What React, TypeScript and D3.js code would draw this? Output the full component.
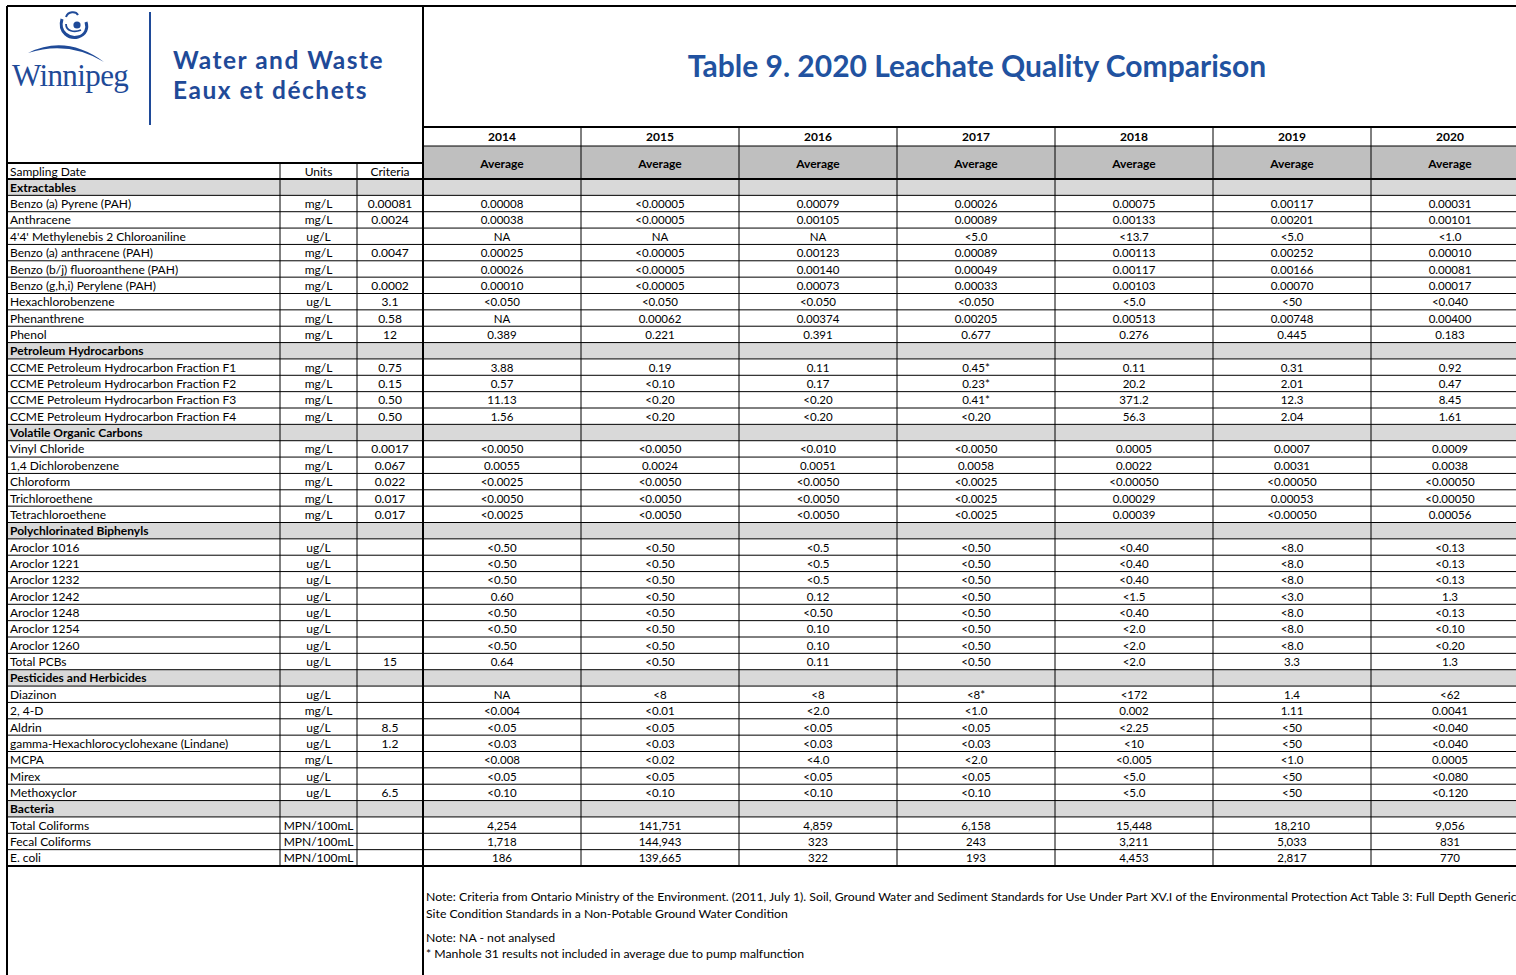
import React, { useEffect } from 'react';
import * as d3 from 'd3';

const years = ['2014', '2015', '2016', '2017', '2018', '2019', '2020'];
const sections = ['Extractables', 'Petroleum Hydrocarbons', 'Volatile Organic Carbons', 'Polychlorinated Biphenyls', 'Pesticides and Herbicides', 'Bacteria'];
const sectionSizes = [9, 4, 5, 8, 7, 3];

const params = [
  'Benzo (a) Pyrene (PAH)', 'Anthracene', "4'4' Methylenebis 2 Chloroaniline", 'Benzo (a) anthracene (PAH)',
  'Benzo (b/j) fluoroanthene (PAH)', 'Benzo (g,h,i) Perylene (PAH)', 'Hexachlorobenzene', 'Phenanthrene', 'Phenol',
  'CCME Petroleum Hydrocarbon Fraction F1', 'CCME Petroleum Hydrocarbon Fraction F2', 'CCME Petroleum Hydrocarbon Fraction F3', 'CCME Petroleum Hydrocarbon Fraction F4',
  'Vinyl Chloride', '1,4 Dichlorobenzene', 'Chloroform', 'Trichloroethene', 'Tetrachloroethene',
  'Aroclor 1016', 'Aroclor 1221', 'Aroclor 1232', 'Aroclor 1242', 'Aroclor 1248', 'Aroclor 1254', 'Aroclor 1260', 'Total PCBs',
  'Diazinon', '2, 4-D', 'Aldrin', 'gamma-Hexachlorocyclohexane (Lindane)', 'MCPA', 'Mirex', 'Methoxyclor',
  'Total Coliforms', 'Fecal Coliforms', 'E. coli',
];
const units = [
  'mg/L', 'mg/L', 'ug/L', 'mg/L', 'mg/L', 'mg/L', 'ug/L', 'mg/L', 'mg/L',
  'mg/L', 'mg/L', 'mg/L', 'mg/L',
  'mg/L', 'mg/L', 'mg/L', 'mg/L', 'mg/L',
  'ug/L', 'ug/L', 'ug/L', 'ug/L', 'ug/L', 'ug/L', 'ug/L', 'ug/L',
  'ug/L', 'mg/L', 'ug/L', 'ug/L', 'mg/L', 'ug/L', 'ug/L',
  'MPN/100mL', 'MPN/100mL', 'MPN/100mL',
];
const criteria = [
  '0.00081', '0.0024', '', '0.0047', '', '0.0002', '3.1', '0.58', '12',
  '0.75', '0.15', '0.50', '0.50',
  '0.0017', '0.067', '0.022', '0.017', '0.017',
  '', '', '', '', '', '', '', '15',
  '', '', '8.5', '1.2', '', '', '6.5',
  '', '', '',
];

const v2014 = ['0.00008', '0.00038', 'NA', '0.00025', '0.00026', '0.00010', '<0.050', 'NA', '0.389',
  '3.88', '0.57', '11.13', '1.56',
  '<0.0050', '0.0055', '<0.0025', '<0.0050', '<0.0025',
  '<0.50', '<0.50', '<0.50', '0.60', '<0.50', '<0.50', '<0.50', '0.64',
  'NA', '<0.004', '<0.05', '<0.03', '<0.008', '<0.05', '<0.10',
  '4,254', '1,718', '186'];
const v2015 = ['<0.00005', '<0.00005', 'NA', '<0.00005', '<0.00005', '<0.00005', '<0.050', '0.00062', '0.221',
  '0.19', '<0.10', '<0.20', '<0.20',
  '<0.0050', '0.0024', '<0.0050', '<0.0050', '<0.0050',
  '<0.50', '<0.50', '<0.50', '<0.50', '<0.50', '<0.50', '<0.50', '<0.50',
  '<8', '<0.01', '<0.05', '<0.03', '<0.02', '<0.05', '<0.10',
  '141,751', '144,943', '139,665'];
const v2016 = ['0.00079', '0.00105', 'NA', '0.00123', '0.00140', '0.00073', '<0.050', '0.00374', '0.391',
  '0.11', '0.17', '<0.20', '<0.20',
  '<0.010', '0.0051', '<0.0050', '<0.0050', '<0.0050',
  '<0.5', '<0.5', '<0.5', '0.12', '<0.50', '0.10', '0.10', '0.11',
  '<8', '<2.0', '<0.05', '<0.03', '<4.0', '<0.05', '<0.10',
  '4,859', '323', '322'];
const v2017 = ['0.00026', '0.00089', '<5.0', '0.00089', '0.00049', '0.00033', '<0.050', '0.00205', '0.677',
  '0.45*', '0.23*', '0.41*', '<0.20',
  '<0.0050', '0.0058', '<0.0025', '<0.0025', '<0.0025',
  '<0.50', '<0.50', '<0.50', '<0.50', '<0.50', '<0.50', '<0.50', '<0.50',
  '<8*', '<1.0', '<0.05', '<0.03', '<2.0', '<0.05', '<0.10',
  '6,158', '243', '193'];
const v2018 = ['0.00075', '0.00133', '<13.7', '0.00113', '0.00117', '0.00103', '<5.0', '0.00513', '0.276',
  '0.11', '20.2', '371.2', '56.3',
  '0.0005', '0.0022', '<0.00050', '0.00029', '0.00039',
  '<0.40', '<0.40', '<0.40', '<1.5', '<0.40', '<2.0', '<2.0', '<2.0',
  '<172', '0.002', '<2.25', '<10', '<0.005', '<5.0', '<5.0',
  '15,448', '3,211', '4,453'];
const v2019 = ['0.00117', '0.00201', '<5.0', '0.00252', '0.00166', '0.00070', '<50', '0.00748', '0.445',
  '0.31', '2.01', '12.3', '2.04',
  '0.0007', '0.0031', '<0.00050', '0.00053', '<0.00050',
  '<8.0', '<8.0', '<8.0', '<3.0', '<8.0', '<8.0', '<8.0', '3.3',
  '1.4', '1.11', '<50', '<50', '<1.0', '<50', '<50',
  '18,210', '5,033', '2,817'];
const v2020 = ['0.00031', '0.00101', '<1.0', '0.00010', '0.00081', '0.00017', '<0.040', '0.00400', '0.183',
  '0.92', '0.47', '8.45', '1.61',
  '0.0009', '0.0038', '<0.00050', '<0.00050', '0.00056',
  '<0.13', '<0.13', '<0.13', '1.3', '<0.13', '<0.10', '<0.20', '1.3',
  '<62', '0.0041', '<0.040', '<0.040', '0.0005', '<0.080', '<0.120',
  '9,056', '831', '770'];

const notes = [
  'Note: Criteria from Ontario Ministry of the Environment. (2011, July 1). Soil, Ground Water and Sediment Standards for Use Under Part XV.I of the Environmental Protection Act Table 3: Full Depth Generic',
  'Site Condition Standards in a Non-Potable Ground Water Condition',
  'Note: NA - not analysed',
  '* Manhole 31 results not included in average due to pump malfunction',
];

const W = 1516, H = 975;
const X0 = 7, XU = 280, XC = 357, XD = 423, XR = 1529;
const Y0 = 6, YTITLE = 127, YYEAR = 146, YHEAD = 163, YBODY = 179;
const blue = '#1f4a98';
const titleBlue = '#2152a0';
const font = 'Lato, "Noto Sans", sans-serif';

export default function App() {
  useEffect(() => {
    document.body.style.margin = '0';
    document.body.style.overflow = 'hidden';
  }, []);

  const columns = [v2014, v2015, v2016, v2017, v2018, v2019, v2020];

  // section headers interleaved with parameter rows
  const rows: { type: 'section' | 'param'; label: string; idx: number }[] = [];
  let p = 0;
  sections.forEach((s, si) => {
    rows.push({ type: 'section', label: s, idx: si });
    for (let k = 0; k < sectionSizes[si]; k++) { rows.push({ type: 'param', label: params[p], idx: p }); p++; }
  });

  const x = d3.scaleBand().domain(years).range([XD, XR]);
  const y = d3.scaleLinear().domain([0, rows.length]).range([YBODY, 866]);
  const rh = y(1) - y(0);

  return (
    <svg width={W} height={H} style={{ display: 'block', background: '#fff' }} fontFamily={font}>
      {/* shaded rows */}
      <rect x={XD} y={YYEAR} width={XR - XD} height={YBODY - YYEAR} fill="#bfbfbf" />
      {rows.map((r, i) => r.type === 'section' && (
        <rect key={'s' + i} x={X0} y={y(i)} width={XR - X0} height={rh} fill="#d9d9d9" />
      ))}

      {/* thin grid */}
      {d3.range(1, rows.length).map(i => (
        <line key={'h' + i} x1={X0} x2={XR} y1={y(i)} y2={y(i)} stroke="#000" strokeWidth={1} />
      ))}
      <line x1={XD} x2={XR} y1={YYEAR} y2={YYEAR} stroke="#000" strokeWidth={1} />
      {[XU, XC].map(v => <line key={'vu' + v} x1={v} x2={v} y1={YHEAD} y2={y(rows.length)} stroke="#000" strokeWidth={1} />)}
      {years.slice(1).map(yr => (
        <line key={'vy' + yr} x1={x(yr)} x2={x(yr)} y1={YTITLE} y2={y(rows.length)} stroke="#000" strokeWidth={1} />
      ))}

      {/* thick borders */}
      <line x1={X0} x2={W} y1={Y0} y2={Y0} stroke="#000" strokeWidth={2} />
      <line x1={X0} x2={X0} y1={Y0} y2={H} stroke="#000" strokeWidth={2} />
      <line x1={XD} x2={XD} y1={Y0} y2={H} stroke="#000" strokeWidth={2} />
      <line x1={XD} x2={XR} y1={YTITLE} y2={YTITLE} stroke="#000" strokeWidth={2} />
      <line x1={X0} x2={XD} y1={YHEAD} y2={YHEAD} stroke="#000" strokeWidth={2} />
      <line x1={X0} x2={XR} y1={YBODY} y2={YBODY} stroke="#000" strokeWidth={2} />
      <line x1={X0} x2={XR} y1={y(rows.length)} y2={y(rows.length)} stroke="#000" strokeWidth={2} />

      {/* logo */}
      <g fill={blue} stroke="none">
        <path d="M28,53 Q66,34 104,62 Q68,40 28,53 Z" />
        <circle cx={77} cy={25} r={3.6} />
        <path d="M62,19 C58,33 70,39 78,37 C86,35 88,28 86,22" fill="none" stroke={blue} strokeWidth={3} />
        <path d="M66,24 C66,31 74,33 81,30" fill="none" stroke={blue} strokeWidth={1.8} />
        <path d="M66,17 C68,11 76,11 78,15" fill="none" stroke={blue} strokeWidth={2} />
        <text x={12} y={86} fontFamily='"Liberation Serif", "DejaVu Serif", serif' fontSize={31} letterSpacing={-0.6}>Winnipeg</text>
      </g>
      <line x1={150} x2={150} y1={12} y2={125} stroke={blue} strokeWidth={2} />
      <text x={173} y={68.5} fill={blue} fontSize={24.5} fontWeight={700} letterSpacing={1.5}>Water and Waste</text>
      <text x={173} y={98.5} fill={blue} fontSize={24.5} fontWeight={700} letterSpacing={1.5}>Eaux et déchets</text>

      {/* title */}
      <text x={977} y={77} textAnchor="middle" fill={titleBlue} fontSize={30} fontWeight={700}>Table 9. 2020 Leachate Quality Comparison</text>

      {/* column headers */}
      {years.map(yr => (
        <g key={'yh' + yr} fontSize={12} fontWeight={700} textAnchor="middle">
          <text x={x(yr)! + x.bandwidth() / 2} y={141}>{yr}</text>
          <text x={x(yr)! + x.bandwidth() / 2} y={168}>Average</text>
        </g>
      ))}
      <g fontSize={12}>
        <text x={10} y={176}>Sampling Date</text>
        <text x={(XU + XC) / 2} y={176} textAnchor="middle">Units</text>
        <text x={(XC + XD) / 2} y={176} textAnchor="middle">Criteria</text>
      </g>

      {/* body */}
      {rows.map((r, i) => {
        const by = y(i) + rh - 3.6;
        if (r.type === 'section') {
          return <text key={'t' + i} x={10} y={by} fontSize={12} fontWeight={700}>{r.label}</text>;
        }
        return (
          <g key={'t' + i} fontSize={12}>
            <text x={10} y={by}>{r.label}</text>
            <text x={(XU + XC) / 2} y={by} textAnchor="middle">{units[r.idx]}</text>
            <text x={(XC + XD) / 2} y={by} textAnchor="middle">{criteria[r.idx]}</text>
            {years.map((yr, c) => (
              <text key={yr} x={x(yr)! + x.bandwidth() / 2} y={by} textAnchor="middle" fontSize={11.5}>{columns[c][r.idx]}</text>
            ))}
          </g>
        );
      })}

      {/* notes */}
      <g fontSize={12.25}>
        {notes.map((n, i) => (
          <text key={'n' + i} x={426} y={[901, 918, 942, 958][i]}>{n}</text>
        ))}
      </g>
    </svg>
  );
}
